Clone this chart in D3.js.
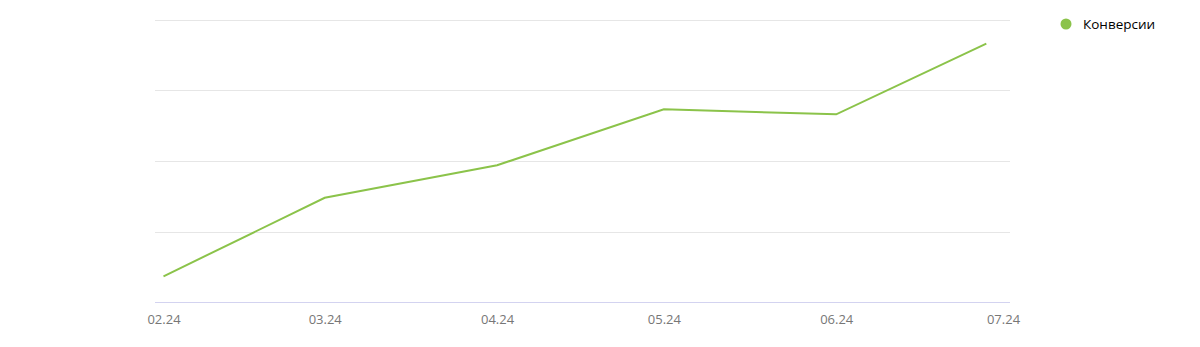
<!DOCTYPE html>
<html>
<head>
<meta charset="utf-8">
<script src="https://cdn.jsdelivr.net/npm/d3@7"></script>
<style>
  body { margin: 0; background: #fff; }
  .x.axis text { font-family: "Open Sans", sans-serif; font-size: 13px; fill: #777; }
  .grid line { stroke: #e6e6e6; }
  .line { fill: none; stroke: #8bc34a; stroke-width: 2; }
</style>
</head>
<body>
<div id="chart"></div>
<script>
// data
var months = ["2024-02-01", "2024-03-01", "2024-04-01", "2024-05-01", "2024-06-01", "2024-06-28"];
var conversions = [0.37, 1.48, 1.94, 2.73, 2.66, 3.66];
var tickDates = ["2024-02-01", "2024-03-01", "2024-04-01", "2024-05-01", "2024-06-01", "2024-07-01"];
var gridValues = [0, 1, 2, 3, 4];
var seriesName = "Конверсии";

var parseDate = d3.timeParse("%Y-%m-%d");
var formatTick = d3.timeFormat("%m.%y");

var width = 1200, height = 347;

var data = months.map(function(m, i) {
    return {date: parseDate(m), value: conversions[i]};
});
var ticks = tickDates.map(parseDate);

// scales
var x = d3.scaleTime()
    .domain(d3.extent(ticks))
    .range([163.5, 1003]);
var y = d3.scaleLinear()
    .domain([0, 4])
    .range([302.5, 19.5]);

var svg = d3.select("div#chart")
    .append("svg")
    .attr("width", width)
    .attr("height", height);

// horizontal grid
svg.append("g")
    .attr("class", "grid")
    .selectAll("line")
    .data(gridValues.slice(1))
    .enter().append("line")
    .attr("x1", 155)
    .attr("x2", 1010)
    .attr("y1", function(d) { return Math.round(y(d)) + 0.5; })
    .attr("y2", function(d) { return Math.round(y(d)) + 0.5; });

// x axis
var xAxis = d3.axisBottom(x)
    .tickValues(ticks)
    .tickFormat(formatTick)
    .tickSize(0)
    .tickPadding(12);

var gx = svg.append("g")
    .attr("class", "x axis")
    .attr("transform", "translate(0," + y(0) + ")")
    .call(xAxis);
gx.select(".domain").remove();

gx.append("line")
    .attr("x1", 155)
    .attr("x2", 1010)
    .attr("y1", 0)
    .attr("y2", 0)
    .attr("stroke", "#d3d3f0");

// the line
var valueline = d3.line()
    .x(function(d) { return x(d.date); })
    .y(function(d) { return y(d.value); });

svg.append("path")
    .attr("class", "line")
    .attr("d", valueline(data));

// legend
var legend = svg.append("g")
    .attr("transform", "translate(1066,24)");
legend.append("circle")
    .attr("r", 5.5)
    .attr("fill", "#8bc34a");
legend.append("text")
    .attr("x", 17)
    .attr("dy", "0.35em")
    .style("font-family", "'Open Sans', sans-serif")
    .style("font-size", "13.5px")
    .style("fill", "#000")
    .text(seriesName);
</script>
</body>
</html>
